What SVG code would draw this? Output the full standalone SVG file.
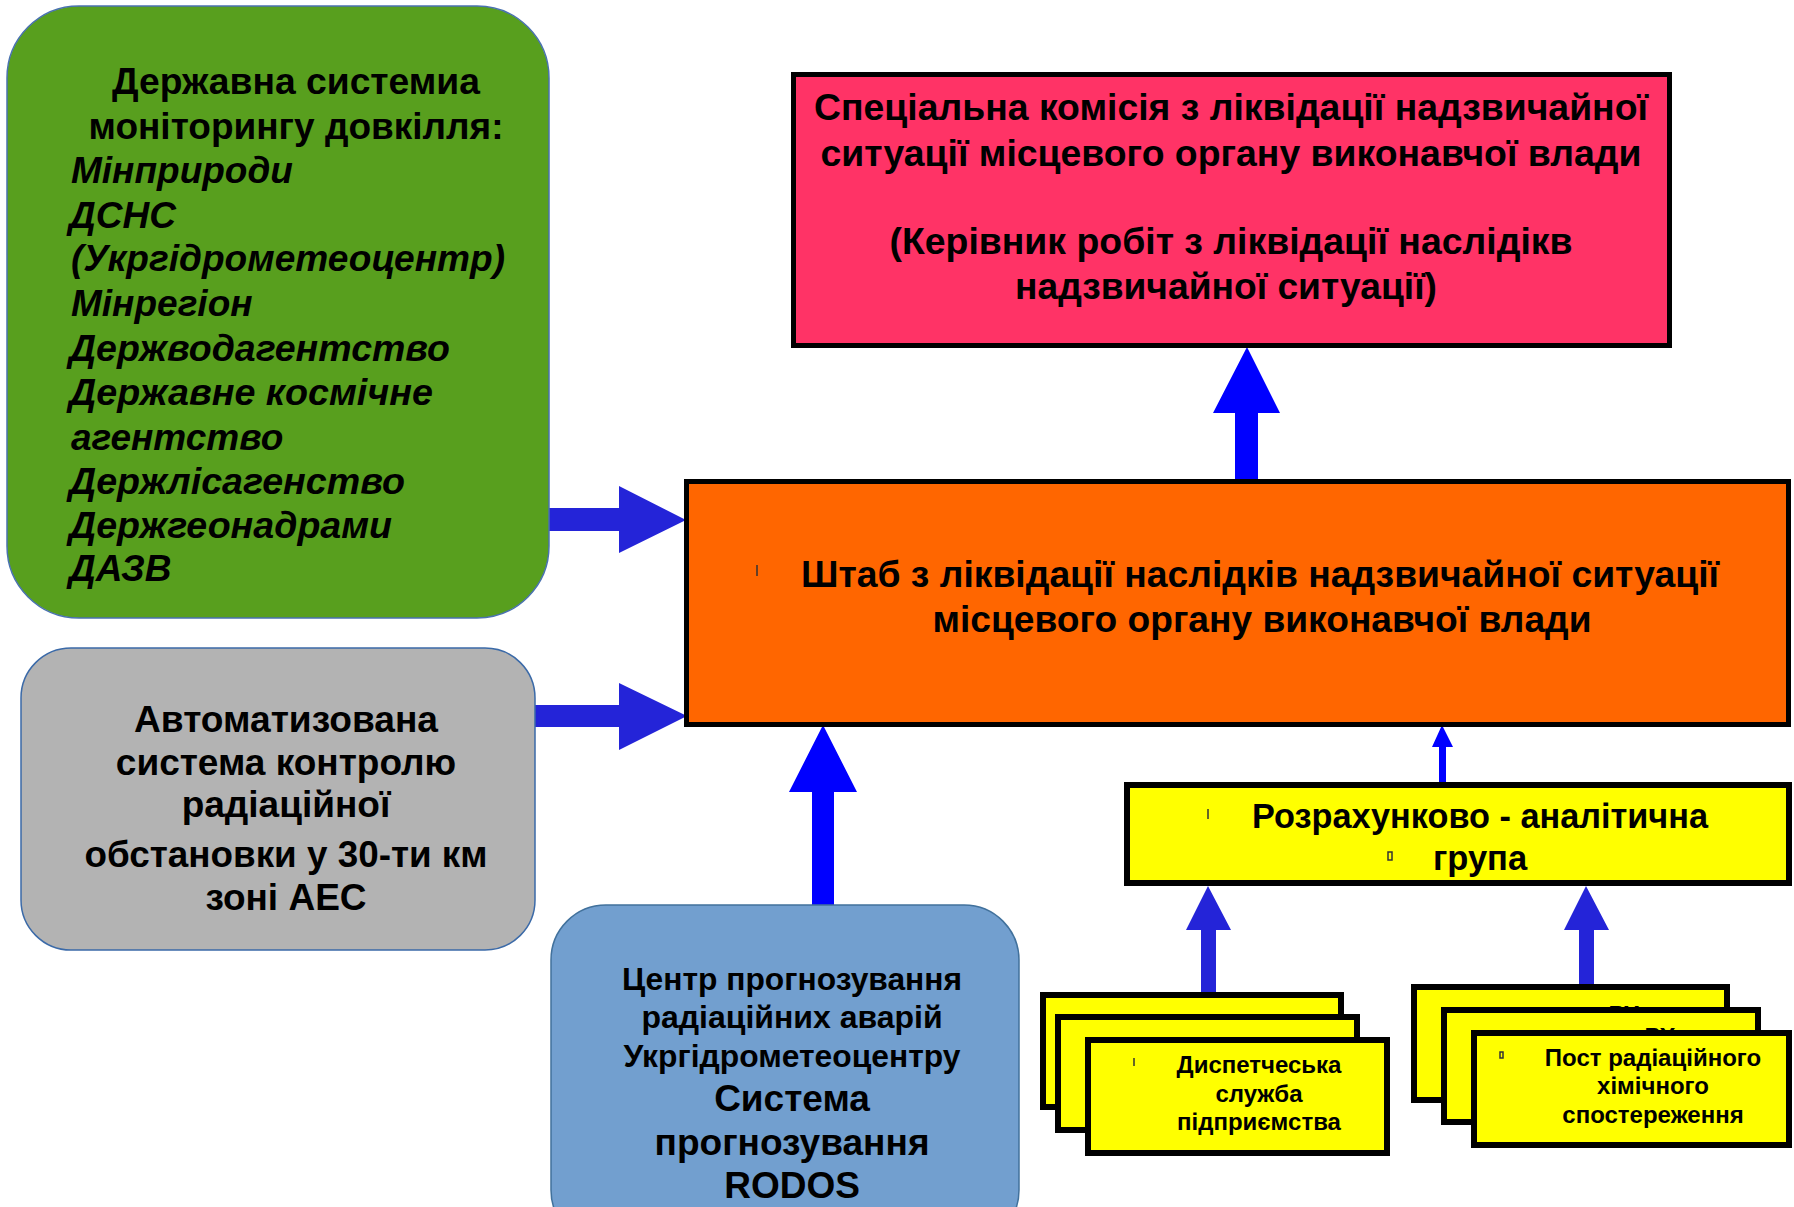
<svg xmlns="http://www.w3.org/2000/svg" width="1794" height="1207" viewBox="0 0 1794 1207">
<style>
text{font-family:"Liberation Sans",Arial,sans-serif;font-weight:bold;fill:#000}
.c{text-anchor:middle}
.i{font-style:italic}
.g{font-size:37px}
.gr{font-size:37px}
.bs{font-size:32px}
.bb{font-size:37px}
.p{font-size:37px}
.y{font-size:34.5px}
.f24{font-size:24px}
.box{stroke:#000;stroke-width:5}
.card{fill:#ffff00;stroke:#000;stroke-width:6}
.arr1{fill:#2424d8}
.arr2{fill:#0000ff}
.tick{stroke:#333;stroke-width:1.5;fill:none}
</style>
<rect width="1794" height="1207" fill="#fff"/>
<g id="connectors">
<polygon class="arr1" points="549,508 619,508 619,486 686,520 619,553 619,531 549,531"/>
<polygon class="arr1" points="535,705 619,705 619,683 687,716 619,750 619,727 535,727"/>
<polygon class="arr2" points="812,905 812,792 789,792 823,725 857,792 834,792 834,905"/>
<polygon class="arr2" points="1235,482 1235,413 1213,413 1247,347 1280,413 1258,413 1258,482"/>
<polygon class="arr2" points="1439,782 1439,747 1432,747 1442,725 1453,747 1446,747 1446,782"/>
<polygon class="arr1" points="1201,993 1201,930 1186,930 1208,886 1231,930 1216,930 1216,993"/>
<polygon class="arr1" points="1579,992 1579,930 1564,930 1586,886 1609,930 1594,930 1594,992"/>
</g>
<g id="monitoring">
<rect x="7" y="6" width="542" height="612" rx="72" ry="72" fill="#589f1e" stroke="#4a72b0" stroke-width="1.5"/>
<text class="g c" x="296" y="94" textLength="368" lengthAdjust="spacingAndGlyphs">Державна системиа</text>
<text class="g c" x="296" y="139" textLength="415" lengthAdjust="spacingAndGlyphs">моніторингу довкілля:</text>
<text class="g i" x="71" y="183">Мінприроди</text>
<text class="g i" x="69" y="228">ДСНС</text>
<text class="g i" x="71" y="271" textLength="434" lengthAdjust="spacingAndGlyphs">(Укргідрометеоцентр)</text>
<text class="g i" x="71" y="316">Мінрегіон</text>
<text class="g i" x="69" y="361" textLength="381" lengthAdjust="spacingAndGlyphs">Держводагентство</text>
<text class="g i" x="69" y="405" textLength="364" lengthAdjust="spacingAndGlyphs">Державне космічне</text>
<text class="g i" x="71" y="450">агентство</text>
<text class="g i" x="69" y="494" textLength="336" lengthAdjust="spacingAndGlyphs">Держлісагенство</text>
<text class="g i" x="69" y="538" textLength="323" lengthAdjust="spacingAndGlyphs">Держгеонадрами</text>
<text class="g i" x="69" y="581">ДАЗВ</text>
</g>
<g id="askro">
<rect x="21" y="648" width="514" height="302" rx="50" ry="50" fill="#b3b3b3" stroke="#3b6aa8" stroke-width="1.5"/>
<text class="gr c" x="286" y="732" textLength="304" lengthAdjust="spacingAndGlyphs">Автоматизована</text>
<text class="gr c" x="286" y="775">система контролю</text>
<text class="gr c" x="286" y="817">радіаційної</text>
<text class="gr c" x="286" y="867" textLength="403" lengthAdjust="spacingAndGlyphs">обстановки у 30-ти км</text>
<text class="gr c" x="286" y="910">зоні АЕС</text>
</g>
<g id="rodos">
<rect x="551" y="905" width="468" height="340" rx="55" ry="55" fill="#729fcf" stroke="#41719c" stroke-width="1.5"/>
<text class="bs c" x="792" y="990" textLength="340" lengthAdjust="spacingAndGlyphs">Центр прогнозування</text>
<text class="bs c" x="792" y="1028">радіаційних аварій</text>
<text class="bs c" x="792" y="1067" textLength="337" lengthAdjust="spacingAndGlyphs">Укргідрометеоцентру</text>
<text class="bb c" x="792" y="1111">Система</text>
<text class="bb c" x="792" y="1155" textLength="275" lengthAdjust="spacingAndGlyphs">прогнозування</text>
<text class="bb c" x="792" y="1198">RODOS</text>
</g>
<g id="commission">
<rect class="box" x="793.5" y="74.5" width="876" height="271" fill="#ff3366"/>
<text class="p c" x="1231" y="120" textLength="834" lengthAdjust="spacingAndGlyphs">Спеціальна комісія з ліквідації надзвичайної</text>
<text class="p c" x="1231" y="166" textLength="821" lengthAdjust="spacingAndGlyphs">ситуації місцевого органу виконавчої влади</text>
<text class="p c" x="1231" y="254" textLength="683" lengthAdjust="spacingAndGlyphs">(Керівник робіт з ліквідації наслідікв</text>
<text class="p c" x="1226" y="299" textLength="422" lengthAdjust="spacingAndGlyphs">надзвичайної ситуації)</text>
</g>
<g id="headquarters">
<rect class="box" x="686.5" y="481.5" width="1102" height="243" fill="#ff6600"/>
<line class="tick" x1="757" y1="565" x2="757" y2="576"/>
<text class="p c" x="1260" y="587" textLength="918" lengthAdjust="spacingAndGlyphs">Штаб з ліквідації наслідків надзвичайної ситуації</text>
<text class="p c" x="1262" y="632" textLength="659" lengthAdjust="spacingAndGlyphs">місцевого органу виконавчої влади</text>
</g>
<g id="analytic-group">
<rect class="card" x="1127" y="785" width="662" height="98"/>
<line class="tick" x1="1208" y1="809" x2="1208" y2="819"/>
<rect class="tick" x="1388" y="852" width="4" height="8" stroke-width="1"/>
<text class="y c" x="1480" y="828" textLength="456" lengthAdjust="spacingAndGlyphs">Розрахунково - аналітична</text>
<text class="y c" x="1480" y="870">група</text>
</g>
<g id="dispatch">
<rect class="card" x="1043" y="995" width="298" height="112"/>
<rect class="card" x="1058" y="1017" width="299" height="113"/>
<rect class="card" x="1088" y="1040" width="299" height="113"/>
<line class="tick" x1="1134" y1="1058" x2="1134" y2="1066"/>
<text class="f24 c" x="1259" y="1073">Диспетчеська</text>
<text class="f24 c" x="1259" y="1102">служба</text>
<text class="f24 c" x="1259" y="1130">підприємства</text>
</g>
<g id="rch-post">
<rect class="card" x="1414" y="987" width="313" height="113"/>
<text class="f24 c" x="1624" y="1023">РХ</text>
<rect class="card" x="1444" y="1010" width="314" height="112"/>
<text class="f24 c" x="1660" y="1045">РХ</text>
<rect class="card" x="1474" y="1033" width="315" height="112"/>
<rect class="tick" x="1500" y="1052" width="3" height="6" stroke-width="1"/>
<text class="f24 c" x="1653" y="1066">Пост радіаційного</text>
<text class="f24 c" x="1653" y="1094">хімічного</text>
<text class="f24 c" x="1653" y="1123">спостереження</text>
</g>
</svg>
